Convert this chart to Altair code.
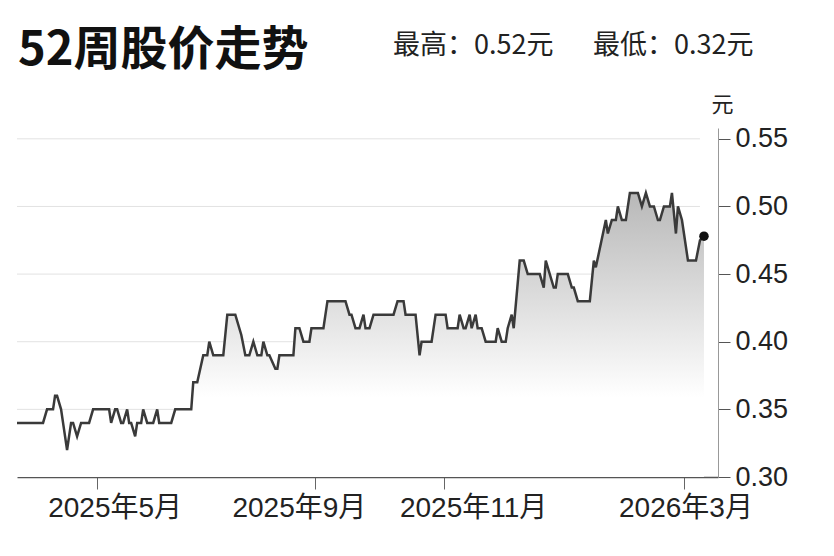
import pandas as pd
import altair as alt

# trading-day index (chart units) and closing price
day = [0, 13, 15, 18, 19, 20, 22, 23, 25, 27, 28, 30, 32, 36, 38, 46, 47, 49, 50, 52,
       53, 55, 56, 57, 59, 60, 62, 63, 65, 68, 70, 71, 77, 79, 87, 88, 90, 93, 95, 96,
       98, 103, 105, 109, 112, 114, 116, 118, 120, 122, 123, 125, 126, 129, 130, 131, 138, 139, 141, 143,
       146, 147, 153, 155, 164, 166, 167, 169, 171, 173, 174, 176, 178, 188, 190, 193, 194, 199, 201, 202,
       207, 209, 214, 215, 220, 221, 223, 224, 226, 227, 229, 230, 232, 234, 239, 240, 242, 244, 245, 247,
       248, 251, 253, 255, 261, 263, 264, 268, 269, 270, 275, 277, 278, 280, 286, 288, 289, 294, 295, 297,
       299, 300, 302, 304, 306, 310, 312, 314, 316, 318, 320, 321, 323, 326, 327, 329, 330, 332, 333, 335,
       339, 341, 343]
price = [0.34, 0.34, 0.35, 0.35, 0.36, 0.36, 0.35, 0.34, 0.32, 0.34, 0.34, 0.33, 0.34, 0.34, 0.35, 0.35, 0.34, 0.35, 0.35, 0.34,
         0.34, 0.35, 0.34, 0.34, 0.33, 0.34, 0.34, 0.35, 0.34, 0.34, 0.35, 0.34, 0.34, 0.35, 0.35, 0.37, 0.37, 0.39, 0.39, 0.40,
         0.39, 0.39, 0.42, 0.42, 0.405, 0.39, 0.39, 0.40, 0.39, 0.39, 0.40, 0.39, 0.39, 0.38, 0.38, 0.39, 0.39, 0.41, 0.41, 0.40,
         0.40, 0.41, 0.41, 0.43, 0.43, 0.42, 0.42, 0.41, 0.41, 0.42, 0.41, 0.41, 0.42, 0.42, 0.43, 0.43, 0.42, 0.42, 0.39, 0.40,
         0.40, 0.42, 0.42, 0.41, 0.41, 0.42, 0.41, 0.41, 0.42, 0.41, 0.42, 0.41, 0.41, 0.40, 0.40, 0.41, 0.40, 0.40, 0.41, 0.42,
         0.41, 0.46, 0.46, 0.45, 0.45, 0.44, 0.46, 0.44, 0.44, 0.45, 0.45, 0.44, 0.44, 0.43, 0.43, 0.46, 0.455, 0.49, 0.48, 0.49,
         0.49, 0.50, 0.49, 0.49, 0.51, 0.51, 0.50, 0.51, 0.50, 0.50, 0.49, 0.49, 0.50, 0.50, 0.51, 0.48, 0.50, 0.49, 0.48, 0.46,
         0.46, 0.475, 0.478]

x_ticks = [40, 149, 213, 333]
x_labels = ["2025年5月", "2025年9月", "2025年11月", "2026年3月"]
x_label_at = [49, 141, 228, 334]   # labels sit a little off their ticks in the original
y_ticks = [0.30, 0.35, 0.40, 0.45, 0.50, 0.55]

title = "52周股价走势"
high_text = "最高：0.52元"
low_text = "最低：0.32元"

df = pd.DataFrame({"day": day, "price": price})
last = df.tail(1)
grid = pd.DataFrame({"v": y_ticks[1:], "x0": 0, "x1": day[-2]})
xlab = pd.DataFrame({"at": x_label_at, "label": x_labels})

label_font = "Liberation Sans, Noto Sans CJK SC"
cjk_font = "Noto Sans CJK SC"

x_enc = alt.X("day:Q",
              scale=alt.Scale(domain=[0, 350], nice=False, zero=False),
              axis=alt.Axis(values=x_ticks, title=None, grid=False, labels=False,
                            tickSize=12, tickColor="#666", tickWidth=1,
                            domainColor="#555", domainWidth=1.5))
y_enc = alt.Y("price:Q",
              scale=alt.Scale(domain=[0.30, 0.558], nice=False, zero=False),
              axis=alt.Axis(orient="right", values=y_ticks, format=".2f", grid=False,
                            title="元", titleAngle=0, titleX=4, titleY=-24,
                            titleAlign="center", titleBaseline="middle",
                            titleFont=cjk_font, titleFontSize=22,
                            titleFontWeight="normal", titleColor="#222",
                            tickSize=12, tickColor="#555", domainColor="#999",
                            labelFont=label_font, labelFontSize=27,
                            labelColor="#222", labelPadding=5))

grid_lines = alt.Chart(grid).mark_rule(color="#e2e2e2", strokeWidth=1).encode(
    y=alt.Y("v:Q"), x="x0:Q", x2="x1:Q"
)

area = alt.Chart(df).mark_area(
    color=alt.Gradient(
        gradient="linear",
        stops=[alt.GradientStop(color="#b8b8b8", offset=0),
               alt.GradientStop(color="#ffffff", offset=0.72)],
        x1=0, x2=0, y1=0, y2=1),
).encode(x=x_enc, y=y_enc, y2=alt.datum(0.30))

line = alt.Chart(df).mark_line(color="#3a3a3a", strokeWidth=2.5).encode(
    x="day:Q", y="price:Q"
)

dot = alt.Chart(last).mark_point(filled=True, size=90, color="#111", opacity=1).encode(
    x="day:Q", y="price:Q"
)

x_text = alt.Chart(xlab).mark_text(
    font=label_font, fontSize=28, color="#222", align="center", baseline="alphabetic"
).encode(x="at:Q", text="label:N", y=alt.value(389))

title_mark = alt.Chart(pd.DataFrame({"t": [title]})).mark_text(
    font=cjk_font, fontSize=47, fontWeight="bold", color="#111",
    align="left", baseline="alphabetic"
).encode(text="t:N", x=alt.value(1), y=alt.value(-63))

high_mark = alt.Chart(pd.DataFrame({"t": [high_text]})).mark_text(
    font=cjk_font, fontSize=27, color="#222", align="left", baseline="alphabetic"
).encode(text="t:N", x=alt.value(376), y=alt.value(-74))

low_mark = alt.Chart(pd.DataFrame({"t": [low_text]})).mark_text(
    font=cjk_font, fontSize=27, color="#222", align="left", baseline="alphabetic"
).encode(text="t:N", x=alt.value(576), y=alt.value(-74))

chart = alt.layer(grid_lines, area, line, dot, x_text, title_mark, high_mark, low_mark).properties(
    width=701,
    height=349,
    autosize="none",
    padding={"left": 9, "top": 120, "right": 108, "bottom": 71},
    background="white",
).configure_view(stroke=None)

chart.save("out.html", embed_options={"renderer": "svg", "actions": False})
